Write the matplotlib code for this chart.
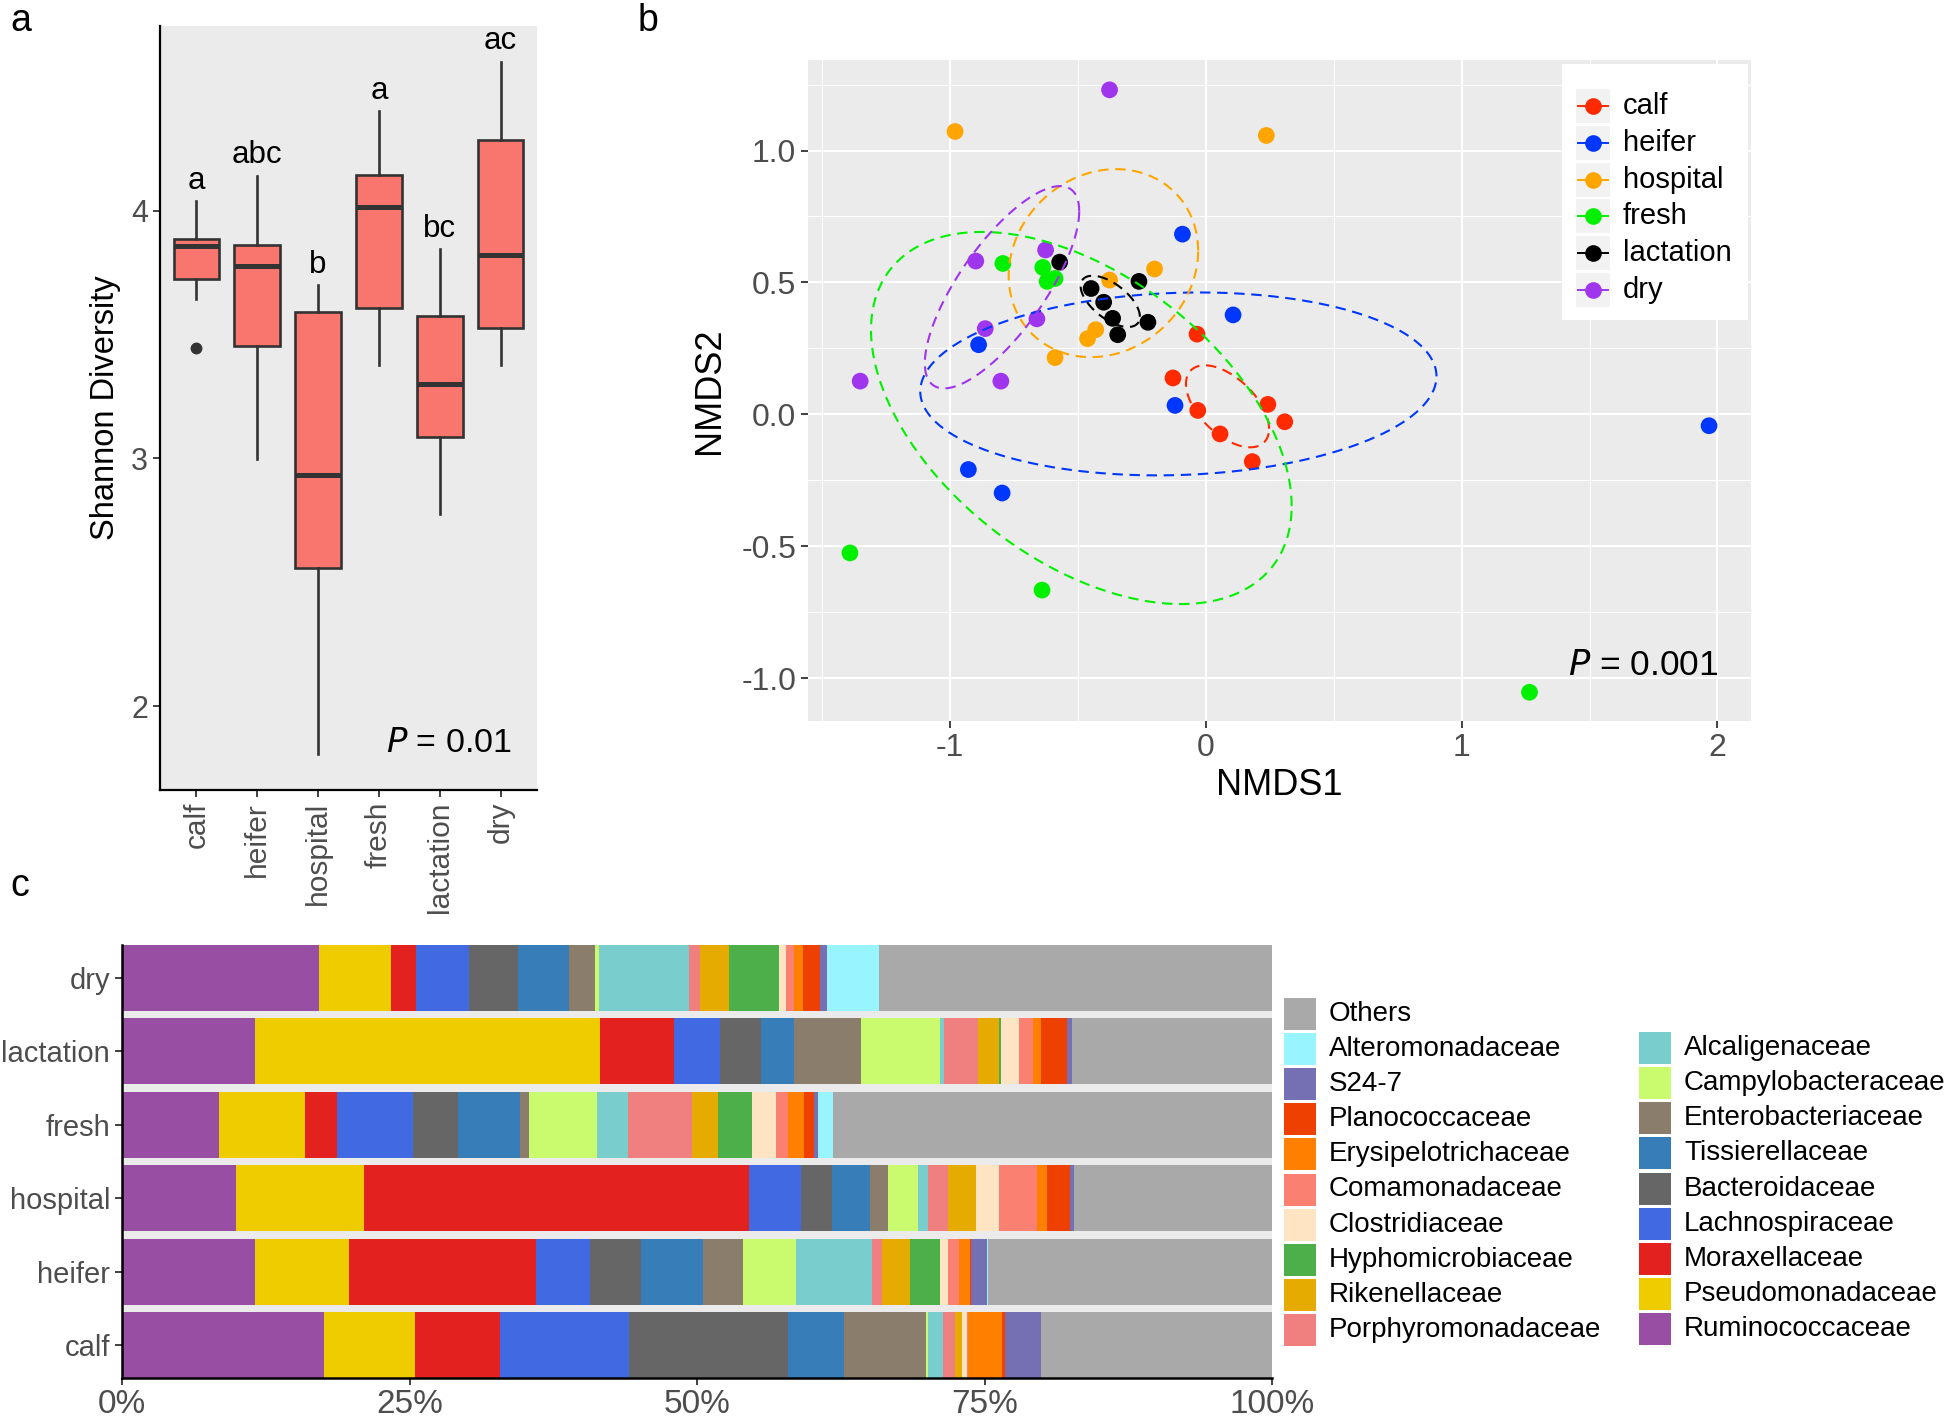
import numpy as np
import matplotlib
matplotlib.use("Agg")
import matplotlib.pyplot as plt
from matplotlib.patches import Rectangle
from matplotlib.lines import Line2D

plt.rcParams['font.family'] = ['Liberation Sans', 'DejaVu Sans']

# ------------------------- data: panel a (Shannon diversity box plots)
stages = ["calf", "heifer", "hospital", "fresh", "lactation", "dry"]
box_whislo = [3.645, 2.998, 1.806, 3.377, 2.775, 3.377]
box_q1 = [3.725, 3.453, 2.557, 3.609, 3.085, 3.526]
box_med = [3.858, 3.775, 2.934, 4.017, 3.301, 3.822]
box_q3 = [3.884, 3.863, 3.590, 4.145, 3.573, 4.287]
box_whishi = [4.038, 4.142, 3.699, 4.403, 3.846, 4.602]
box_outliers = [[3.445], [], [], [], [], []]
sig_letters = ["a", "abc", "b", "a", "bc", "ac"]

# ------------------------- data: panel b (NMDS)
calf_x = [-0.035, -0.129, -0.032, 0.055, 0.242, 0.308, 0.181]
calf_y = [0.304, 0.138, 0.015, -0.074, 0.038, -0.028, -0.179]
heifer_x = [-0.092, 0.106, -0.889, -0.121, -0.929, -0.797, 1.967]
heifer_y = [0.683, 0.377, 0.264, 0.034, -0.209, -0.298, -0.043]
hospital_x = [-0.981, 0.236, -0.201, -0.377, -0.431, -0.463, -0.590]
hospital_y = [1.072, 1.057, 0.551, 0.509, 0.321, 0.287, 0.215]
fresh_x = [-0.794, -0.638, -0.590, -0.621, -1.392, -0.641, 1.265]
fresh_y = [0.572, 0.557, 0.515, 0.504, -0.525, -0.666, -1.053]
lactation_x = [-0.572, -0.449, -0.262, -0.400, -0.365, -0.227, -0.345]
lactation_y = [0.577, 0.477, 0.504, 0.425, 0.364, 0.349, 0.302]
dry_x = [-0.377, -0.627, -0.900, -0.661, -0.863, -0.802, -1.352]
dry_y = [1.230, 0.623, 0.581, 0.362, 0.325, 0.126, 0.126]
stage_colors = ["#FF2A00", "#0037FF", "#FFA500", "#00F000", "#000000", "#A035EE"]
nmds_p_text = "0.001"

# ------------------------- data: panel c (relative abundance, %)
families = ["Ruminococcaceae", "Pseudomonadaceae", "Moraxellaceae", "Lachnospiraceae",
            "Bacteroidaceae", "Tissierellaceae", "Enterobacteriaceae", "Campylobacteraceae",
            "Alcaligenaceae", "Porphyromonadaceae", "Rikenellaceae", "Hyphomicrobiaceae",
            "Clostridiaceae", "Comamonadaceae", "Erysipelotrichaceae", "Planococcaceae",
            "S24-7", "Alteromonadaceae", "Others"]
family_colors = ["#984EA3", "#EECC00", "#E3211F", "#4169E1", "#666666", "#377EB8",
                 "#8B7D6B", "#CAFA6E", "#79CDCD", "#F08080", "#E5AB00", "#4DAF4A",
                 "#FFE4C4", "#FA8072", "#FF7F00", "#EE4000", "#7570B3", "#98F5FF", "#A9A9A9"]
calf_pct = [17.6, 7.9, 7.4, 11.2, 13.8, 4.9, 7.1, 0.2, 1.3, 1.0, 0.6, 0.0, 0.5, 0.1, 2.9, 0.3, 3.1, 0.0, 20.1]
heifer_pct = [11.6, 8.1, 16.3, 4.7, 4.4, 5.4, 3.5, 4.6, 6.6, 0.9, 2.4, 2.6, 0.7, 1.0, 0.9, 0.1, 1.4, 0.1, 24.7]
hospital_pct = [9.9, 11.1, 33.5, 4.5, 2.7, 3.3, 1.6, 2.6, 0.9, 1.7, 2.5, 0.0, 2.0, 3.3, 0.8, 2.0, 0.4, 0.0, 17.2]
fresh_pct = [8.4, 7.5, 2.8, 6.6, 3.9, 5.4, 0.8, 5.9, 2.7, 5.6, 2.2, 3.0, 2.1, 1.0, 1.4, 0.9, 0.3, 1.3, 38.2]
lactation_pct = [11.6, 30.0, 6.4, 4.0, 3.6, 2.8, 5.9, 6.8, 0.4, 2.9, 1.9, 0.1, 1.6, 1.2, 0.7, 2.3, 0.4, 0.0, 17.4]
dry_pct = [17.1, 6.3, 2.2, 4.6, 4.2, 4.5, 2.2, 0.4, 7.8, 1.0, 2.5, 4.3, 0.6, 0.7, 0.8, 1.5, 0.6, 4.5, 34.2]
pct_ticks = [0, 25, 50, 75, 100]

# ------------------------- figure
W, H = 1950, 1417
fig = plt.figure(figsize=(W / 100, H / 100), dpi=100)


def fx(px):
    return px / W


def fy(py):
    return 1 - py / H


GREY_BG = "#EBEBEB"
TICK_TXT = "#4D4D4D"
TICK_COL = "#333333"

# ========================= panel a
axa = fig.add_axes([fx(160), fy(790), (537 - 160) / W, (790 - 26) / H])
axa.set_facecolor(GREY_BG)
stats = []
for i in range(len(stages)):
    stats.append(dict(med=box_med[i], q1=box_q1[i], q3=box_q3[i],
                      whislo=box_whislo[i], whishi=box_whishi[i],
                      fliers=box_outliers[i]))
pos = np.arange(1, len(stages) + 1)
axa.bxp(stats, positions=pos, widths=0.75, patch_artist=True, showcaps=False,
        boxprops=dict(facecolor="#F8766D", edgecolor=TICK_COL, linewidth=1.9),
        medianprops=dict(color=TICK_COL, linewidth=3.6, solid_capstyle="butt"),
        whiskerprops=dict(color=TICK_COL, linewidth=1.9),
        flierprops=dict(marker="o", markerfacecolor=TICK_COL, markeredgecolor=TICK_COL,
                        markersize=7.5))
for i, lab in enumerate(sig_letters):
    axa.text(pos[i], box_whishi[i] + 0.05, lab, ha="center", va="baseline",
             fontsize=22.5, color="black")
axa.text(6.19, 1.848, r"$\it{P}$ = 0.01", ha="right", va="center", fontsize=24.5)
axa.set_xlim(0.4, 6.6)
axa.set_ylim(1.661, 4.746)
axa.set_yticks([2, 3, 4])
axa.set_xticks(pos)
axa.set_xticklabels(stages, rotation=90)
axa.tick_params(axis="both", colors=TICK_COL, length=5, width=1.3, labelcolor=TICK_TXT)
axa.tick_params(axis="y", labelsize=22)
axa.tick_params(axis="x", labelsize=21.5)
for s in ["top", "right"]:
    axa.spines[s].set_visible(False)
for s in ["left", "bottom"]:
    axa.spines[s].set_color("black")
    axa.spines[s].set_linewidth(1.6)
axa.set_ylabel("Shannon Diversity", fontsize=23.5, labelpad=7)

# ========================= panel b
axb = fig.add_axes([fx(808), fy(721), (1751 - 808) / W, (721 - 60) / H])
axb.set_facecolor(GREY_BG)
axb.set_xlim(-1.556, 2.131)
axb.set_ylim(-1.162, 1.343)
axb.set_xticks([-1, 0, 1, 2])
axb.set_xticklabels(["-1", "0", "1", "2"])
axb.set_yticks([-1.0, -0.5, 0.0, 0.5, 1.0])
axb.set_yticklabels(["-1.0", "-0.5", "0.0", "0.5", "1.0"])
axb.set_xticks([-1.5, -0.5, 0.5, 1.5], minor=True)
axb.set_yticks([-0.75, -0.25, 0.25, 0.75, 1.25], minor=True)
axb.grid(which="major", color="white", linewidth=1.5)
axb.grid(which="minor", color="white", linewidth=0.75)
axb.set_axisbelow(True)
for s in axb.spines.values():
    s.set_visible(False)
axb.tick_params(which="major", colors=TICK_COL, length=5, width=1.3,
                labelcolor=TICK_TXT, labelsize=23)
axb.tick_params(which="minor", length=0)

groups_xy = [(calf_x, calf_y), (heifer_x, heifer_y), (hospital_x, hospital_y),
             (fresh_x, fresh_y), (lactation_x, lactation_y), (dry_x, dry_y)]
for (gx, gy), col in zip(groups_xy, stage_colors):
    axb.scatter(gx, gy, s=145, color=col, edgecolors="none", zorder=3)

t = np.linspace(0, 2 * np.pi, 300)
circle = np.vstack([np.cos(t), np.sin(t)])
for (gx, gy), col in zip(groups_xy, stage_colors):
    pts = np.vstack([gx, gy])
    mu = pts.mean(axis=1, keepdims=True)
    cov = np.cov(pts)
    L = np.linalg.cholesky(cov)
    ell = mu + L @ circle
    axb.plot(ell[0], ell[1], color=col, linewidth=1.5, linestyle=(0, (5, 3.2)), zorder=4)

axb.text(2.003, -0.953, r"$\it{P}$ = " + nmds_p_text, ha="right", va="center",
         fontsize=25.5)
axb.set_xlabel("NMDS1", fontsize=26, labelpad=4)
axb.set_ylabel("NMDS2", fontsize=26, labelpad=10)

# legend for panel b (manual, ggplot style)
fig.add_artist(Rectangle((fx(1562), fy(320)), (1748 - 1562) / W, (320 - 64) / H,
                         transform=fig.transFigure, facecolor="white", edgecolor="none"))
for i, (lab, col) in enumerate(zip(stages, stage_colors)):
    cy = 106.3 + i * 36.7
    fig.add_artist(Rectangle((fx(1575.7), fy(cy + 17)), 34.3 / W, 34 / H,
                             transform=fig.transFigure, facecolor="#F2F2F2", edgecolor="none"))
    fig.add_artist(Line2D([fx(1578), fx(1608)], [fy(cy), fy(cy)], transform=fig.transFigure,
                          color=col, linewidth=1.4))
    fig.add_artist(Line2D([fx(1593)], [fy(cy)], transform=fig.transFigure, marker="o",
                          markersize=12, color=col, markeredgecolor="none", linestyle="none"))
    fig.text(fx(1623), fy(cy), lab, ha="left", va="center", fontsize=21)

# ========================= panel c
axc = fig.add_axes([fx(122), fy(1378), (1272 - 122) / W, (1378 - 945) / H])
axc.set_facecolor(GREY_BG)
group_pct = [calf_pct, heifer_pct, hospital_pct, fresh_pct, lactation_pct, dry_pct]
ypos = np.arange(len(stages))
left = np.zeros(len(stages))
for k, fam in enumerate(families):
    vals = np.array([g[k] for g in group_pct])
    axc.barh(ypos, vals, left=left, height=0.9, color=family_colors[k], linewidth=0)
    left = left + vals
axc.set_xlim(0, 100)
axc.set_ylim(-0.45, len(stages) - 0.55)
axc.set_yticks(ypos)
axc.set_yticklabels(stages)
axc.set_xticks(pct_ticks)
axc.set_xticklabels([f"{v}%" for v in pct_ticks])
axc.tick_params(axis="both", colors=TICK_COL, length=5, width=1.3, labelcolor=TICK_TXT)
axc.tick_params(axis="y", labelsize=21)
axc.tick_params(axis="x", labelsize=24, pad=3)
for s in ["top", "right"]:
    axc.spines[s].set_visible(False)
for s in ["left", "bottom"]:
    axc.spines[s].set_color("black")
    axc.spines[s].set_linewidth(1.8)

# legend for panel c (manual, two columns, reverse order)
rev_fams = families[::-1]
rev_cols = family_colors[::-1]
row0, dy = 1014.0, 35.1
for j, (lab, col) in enumerate(zip(rev_fams, rev_cols)):
    if j < 10:
        kx, tx, cy = 1284, 1329, row0 + j * dy
    else:
        kx, tx, cy = 1639, 1684, row0 + (j - 9) * dy - 1
    fig.add_artist(Rectangle((fx(kx), fy(cy + 16)), 32 / W, 32 / H,
                             transform=fig.transFigure, facecolor=col, edgecolor="none"))
    fig.text(fx(tx), fy(cy), lab, ha="left", va="center", fontsize=20)

# panel labels
fig.text(fx(10), fy(31), "a", fontsize=27, va="baseline", ha="left")
fig.text(fx(638), fy(31), "b", fontsize=27, va="baseline", ha="left")
fig.text(fx(10), fy(896), "c", fontsize=27, va="baseline", ha="left")

fig.savefig("out.png", dpi=100)
